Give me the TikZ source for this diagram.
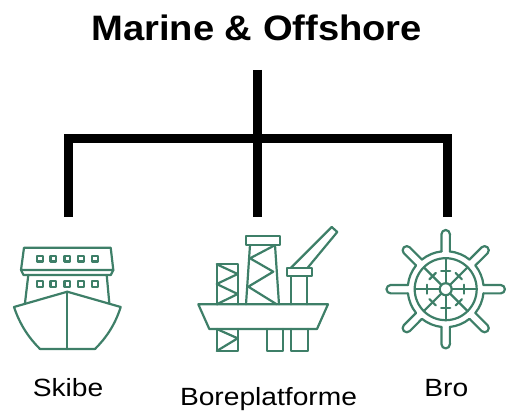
\documentclass[tikz,border=0pt]{standalone}
\usepackage{fontspec}
\setmainfont[FakeStretch=1.13]{Liberation Sans}
\newfontfamily\headingfont[FakeStretch=1.08]{Liberation Sans}
\definecolor{icongreen}{RGB}{62,127,104}
\tikzset{every picture/.style={line width=0.75pt}}
\tikzset{
  branch/.style={line width=6.75pt,color=black},
  icon/.style={line width=1.65pt,color=icongreen,line join=round,line cap=round},
  label/.style={anchor=base,inner sep=0.75pt,font=\fontsize{18.7pt}{22pt}\selectfont},
  heading/.style={anchor=base,inner sep=0.75pt,font=\fontsize{26.5pt}{32pt}\selectfont\headingfont\bfseries}
}
\begin{document}
\begin{tikzpicture}[x=0.75pt,y=0.75pt,yscale=-1,xscale=1]
\useasboundingbox (0,0) rectangle (508,413);

% Text Node
\node (title) [heading] at (256.7,41) {Marine \& Offshore};
\node (skibe) [label] at (68,396.7) {Skibe};
\node (boreplatforme) [label] at (268.5,406) {Boreplatforme};
\node (bro) [label] at (446.3,396.7) {Bro};

%Branch points
\coordinate (trunktop) at (257,70);
\coordinate (trunkfoot) at (257,217);
\coordinate (cornerleft) at (68,139);
\coordinate (cornerright) at (447,139);
\coordinate (footleft) at (68,217);
\coordinate (footright) at (447,217);

%Straight Lines
\draw [branch] (trunktop) -- (trunkfoot);
\draw [branch] (footleft) -- (cornerleft) -- (cornerright) -- (footright);

%Ship
\draw [icon] (24,247.7) -- (110.7,247.7) -- (113.3,270) -- (21,270) -- cycle;
\draw [icon] (21,270) -- (23.5,275) -- (110.8,275) -- (113.3,270);
\draw [icon] (28.3,275) -- (25,303);
\draw [icon] (106.7,275) -- (109.3,303);
\draw [icon] (67.3,291.7) -- (14,307) .. controls (20,325) and (29,338) .. (40,349) -- (95,349) .. controls (106,338) and (115,325) .. (120.7,307) -- cycle;
\draw [icon] (67.3,291.7) -- (67.3,349);
\foreach \x in {39.7,53.3,67.3,81,95} {
  \draw [icon] (\x-2.9,255.8) rectangle (\x+2.9,261.6);
  \draw [icon] (\x-2.9,281.1) rectangle (\x+2.9,286.9);
}

%Platform
\draw [icon] (198.3,304.3) -- (328,304.3) -- (317,329) -- (209.3,329) -- cycle;
\draw [icon] (216.7,304.3) -- (216.7,264.3) -- (237.7,264.3) -- (237.7,304.3);
\draw [icon] (216.7,264.3) -- (237.7,274) -- (216.7,284) -- (237.7,294) -- (216.7,304.3);
\draw [icon] (216.7,329) -- (216.7,351) -- (237.7,351) -- (237.7,329);
\draw [icon] (216.7,329) -- (237.7,338.3) -- (216.7,351);
\draw [icon] (245.7,236) rectangle (280,245);
\draw [icon] (250,245) -- (246,304.3);
\draw [icon] (275,245) -- (279,304.3);
\draw [icon] (274,245.7) -- (250,258.3) -- (273.3,271.7) -- (248.3,286.7) -- (276.7,304.3);
\draw [icon] (267.3,329) -- (267.3,351) -- (283.3,351) -- (283.3,329);
\draw [icon] (291,329) -- (291,351) -- (307.7,351) -- (307.7,329);
\draw [icon] (291,276.3) -- (291,304.3);
\draw [icon] (306.7,276.3) -- (306.7,304.3);
\draw [icon] (286.7,267.7) rectangle (312.3,276.3);
\draw [icon] (291,267.7) -- (331.7,227) -- (337.3,232) -- (307.7,267.7);

%Wheel
\begin{scope}[shift={(445.7,289.2)}]
\draw [icon] (0,0) circle [radius=6];
\draw [icon] (0,0) circle [radius=31];
\foreach \a in {0,45,...,315} {
  \begin{scope}[rotate=\a]
  \draw [icon] (6,0) -- (31,0);
  \draw [icon] (18.5,-4.5) -- (18.5,4.5);
  \draw [icon] (6.3:38) -- (55,4.2) arc [start angle=90,end angle=-90,radius=4.2] -- (-6.3:38);
  \draw [icon] (6.3:38) arc [start angle=6.3,end angle=38.7,radius=38];
  \end{scope}
}
\end{scope}

\end{tikzpicture}
\end{document}
